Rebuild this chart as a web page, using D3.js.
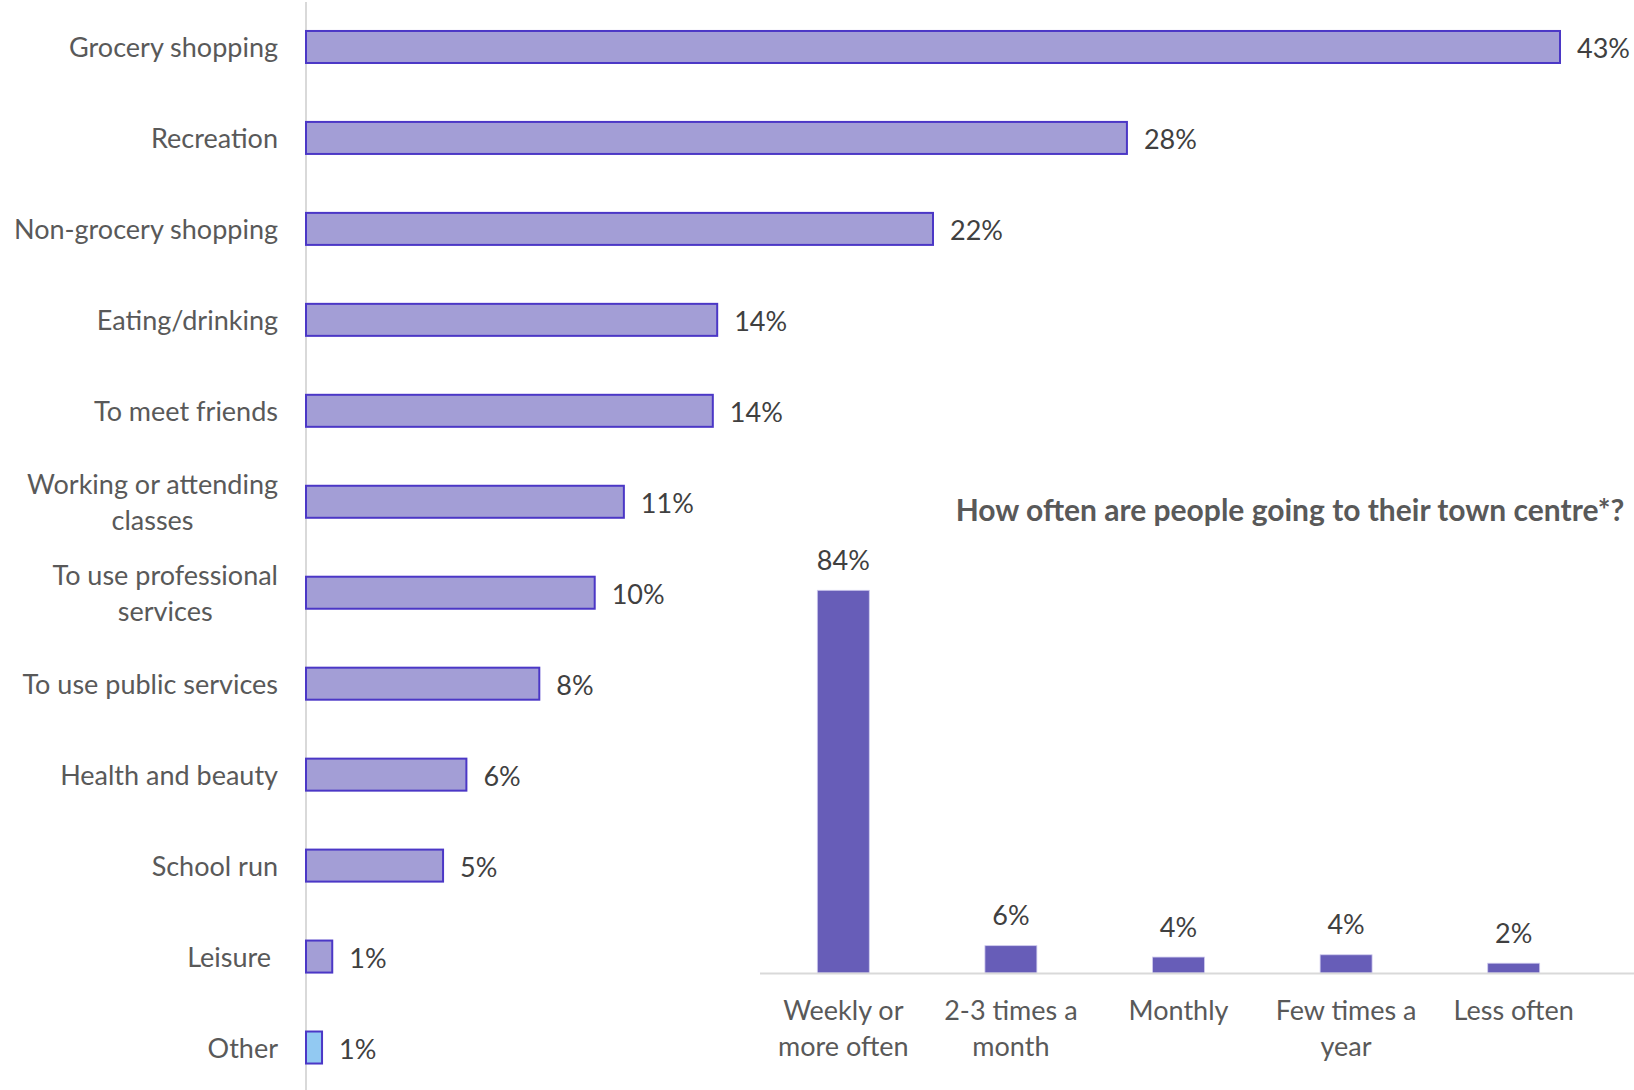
<!DOCTYPE html>
<html>
<head>
<meta charset="utf-8">
<script src="https://cdn.jsdelivr.net/npm/d3@7"></script>
<style>
  html, body { margin: 0; padding: 0; background: #ffffff; }
  svg { display: block; }
  text { font-family: Lato, "Open Sans", sans-serif; }
</style>
</head>
<body>
<svg id="chart" width="1634" height="1090"></svg>
<script>
// Reasons for visiting the town centre (share of respondents, %)
const reasons = [
  "Grocery shopping",
  "Recreation",
  "Non-grocery shopping",
  "Eating/drinking",
  "To meet friends",
  "Working or attending|classes",
  "To use professional|services",
  "To use public services",
  "Health and beauty",
  "School run",
  "Leisure ",
  "Other"
];
const reasonValues = [43.0, 28.15, 21.5, 14.1, 13.95, 10.9, 9.9, 8.0, 5.5, 4.7, 0.9, 0.55];

// How often people go to their town centre (%)
const frequencies = ["Weekly or|more often", "2-3 times a|month", "Monthly", "Few times a|year", "Less often"];
const frequencyValues = [84, 6.0, 3.5, 4.0, 2.15];

const insetTitle = "How often are people going to their town centre*?";

const fmtPct = v => Math.round(v) + "%";

const svg = d3.select("#chart");
const labelFont = 27;
const lineHeight = 35.4;

// ---------- Horizontal bar chart: reasons ----------
const x = d3.scaleLinear().domain([0, 43]).range([306, 1560]);
const y = d3.scaleBand()
  .domain(reasons)
  .range([1.5, 1093])
  .paddingInner(0.648)
  .paddingOuter(0.324);

// vertical category axis line
svg.append("line")
  .attr("x1", x(0)).attr("x2", x(0))
  .attr("y1", 2).attr("y2", 1090)
  .attr("stroke", "#d9d9d9").attr("stroke-width", 2);

const rows = svg.append("g").selectAll("g")
  .data(reasons.map((r, i) => ({ r, v: reasonValues[i], i })))
  .join("g");

rows.append("rect")
  .attr("x", x(0))
  .attr("y", d => y(d.r))
  .attr("width", d => x(d.v) - x(0))
  .attr("height", y.bandwidth())
  .attr("fill", d => d.r === "Other" ? "#92c9f2" : "#a39ed6")
  .attr("stroke", "#4b37c6")
  .attr("stroke-width", 2);

rows.append("text")
  .attr("x", d => x(d.v) + 17)
  .attr("y", d => y(d.r) + y.bandwidth() / 2)
  .attr("dy", "0.42em")
  .attr("font-size", labelFont)
  .attr("fill", "#404040")
  .text(d => fmtPct(d.v));

// category labels: single lines right-aligned; wrapped labels centred as a block
const labelRight = 278;
rows.append("text")
  .attr("font-size", labelFont)
  .attr("fill", "#595959")
  .style("white-space", "pre")
  .each(function(d) {
    const lines = d.r.split("|");
    const t = d3.select(this);
    const cy = y(d.r) + y.bandwidth() / 2;
    const spans = lines.map((ln, k) => t.append("tspan")
      .attr("y", cy + (k - (lines.length - 1) / 2) * lineHeight)
      .attr("dy", "0.38em")
      .text(ln));
    if (lines.length === 1) {
      t.attr("text-anchor", "end");
      spans[0].attr("x", labelRight);
    } else {
      const widest = d3.max(spans, s => s.node().getComputedTextLength());
      t.attr("text-anchor", "middle");
      spans.forEach(s => s.attr("x", labelRight - widest / 2));
    }
  });

// ---------- Inset column chart: visit frequency ----------
const fx = d3.scaleBand()
  .domain(frequencies)
  .range([759.5, 1597.5])
  .paddingInner(0.69)
  .paddingOuter(0.345);
const fy = d3.scaleLinear().domain([0, 84]).range([973, 590.3]);

svg.append("text")
  .attr("x", 1290)
  .attr("y", 510)
  .attr("dy", "0.35em")
  .attr("text-anchor", "middle")
  .attr("font-size", 30)
  .attr("font-weight", "bold")
  .attr("fill", "#595959")
  .text(insetTitle);

const cols = svg.append("g").selectAll("g")
  .data(frequencies.map((f, i) => ({ f, v: frequencyValues[i] })))
  .join("g");

cols.append("rect")
  .attr("x", d => fx(d.f))
  .attr("y", d => fy(d.v))
  .attr("width", fx.bandwidth())
  .attr("height", d => fy(0) - fy(d.v))
  .attr("fill", "#675db8")
  .attr("stroke", "#cfcbee")
  .attr("stroke-width", 0.8);

cols.append("text")
  .attr("x", d => fx(d.f) + fx.bandwidth() / 2)
  .attr("y", d => fy(d.v) - 30)
  .attr("dy", "0.35em")
  .attr("text-anchor", "middle")
  .attr("font-size", labelFont)
  .attr("fill", "#404040")
  .text(d => fmtPct(d.v));

// baseline
svg.append("line")
  .attr("x1", 760).attr("x2", 1634)
  .attr("y1", 973.5).attr("y2", 973.5)
  .attr("stroke", "#d9d9d9").attr("stroke-width", 2);

cols.append("text")
  .attr("text-anchor", "middle")
  .attr("font-size", labelFont)
  .attr("fill", "#595959")
  .each(function(d) {
    const t = d3.select(this);
    const cx = fx(d.f) + fx.bandwidth() / 2;
    d.f.split("|").forEach((ln, k) => {
      t.append("tspan")
        .attr("x", cx)
        .attr("y", 1011 + k * lineHeight)
        .attr("dy", "0.35em")
        .text(ln);
    });
  });
</script>
</body>
</html>
